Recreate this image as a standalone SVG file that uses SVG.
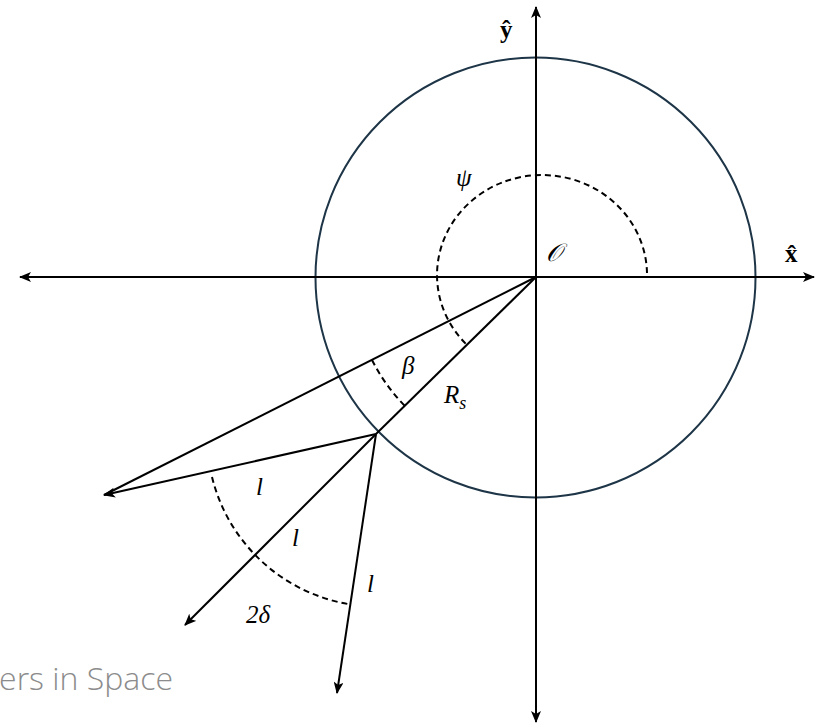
<svg xmlns="http://www.w3.org/2000/svg" width="816" height="724" viewBox="0 0 816 724">
<style>
.ln{stroke:#000;stroke-width:2;fill:none}
.ds{stroke:#000;stroke-width:2;fill:none;stroke-dasharray:6 4}
.m{font-family:"Liberation Serif","DejaVu Serif",serif;font-style:italic;font-size:25px;fill:#000}
.b{font-family:"Liberation Serif","DejaVu Serif",serif;font-weight:bold;font-size:25px;fill:#000}
</style>
<defs>
<marker id="ah" viewBox="0 0 12 10" refX="11" refY="5" markerWidth="12" markerHeight="10" markerUnits="userSpaceOnUse" orient="auto">
<path d="M0,0 L12,5 L0,10 L3,5 Z" fill="#000"/>
</marker>
</defs>
<rect width="816" height="724" fill="#fff"/>
<g id="circle">
<circle cx="535.5" cy="277.5" r="220" fill="none" stroke="#1d3547" stroke-width="2"/>
</g>
<g id="connectors">
<line class="ln" x1="536" y1="700" x2="536" y2="7" marker-end="url(#ah)"/>
<line class="ln" x1="536" y1="100" x2="536" y2="722" marker-end="url(#ah)"/>
<line class="ln" x1="300" y1="277" x2="814" y2="277" marker-end="url(#ah)"/>
<line class="ln" x1="600" y1="277" x2="20" y2="277" marker-end="url(#ah)"/>
<line class="ln" x1="536" y1="277" x2="376" y2="434"/>
<line class="ln" x1="536" y1="277" x2="104" y2="495"/>
<line class="ln" x1="376" y1="434" x2="104" y2="495" marker-end="url(#ah)"/>
<line class="ln" x1="376" y1="434" x2="185" y2="625" marker-end="url(#ah)"/>
<line class="ln" x1="376" y1="434" x2="337" y2="693" marker-end="url(#ah)"/>
<path class="ds" d="M647,273 A105,100 0 1 0 466,344"/>
<path class="ds" d="M372,360 A184,184 0 0 0 405,406"/>
<path class="ds" d="M212,477 A170,170 0 0 0 348,604"/>
</g>
<g id="labels">
<text class="b" x="500" y="38">ŷ</text>
<text class="b" x="785" y="262">x̂</text>
<text class="m" x="546" y="261">𝒪</text>
<text class="m" x="456" y="186">ψ</text>
<text class="m" x="402" y="374">β</text>
<text class="m" x="444" y="403">R<tspan font-size="18" dy="6">s</tspan></text>
<text class="m" x="256" y="495">l</text>
<text class="m" x="292" y="546">l</text>
<text class="m" x="367" y="592">l</text>
<text class="m" x="246" y="623">2δ</text>
<text x="173" y="690" text-anchor="end" font-family="'Open Sans','Liberation Sans',sans-serif" font-weight="300" font-size="32" fill="#8c8c8c">ers in Space</text>
</g>
</svg>
